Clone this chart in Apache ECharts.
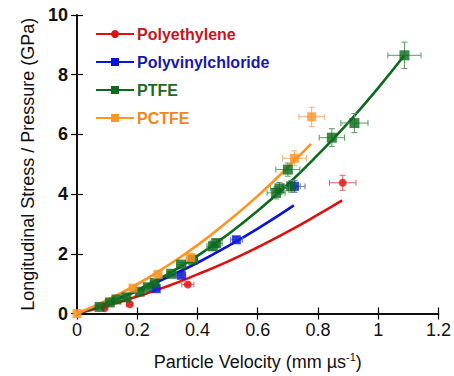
<!DOCTYPE html>
<html><head><meta charset="utf-8">
<script src="https://cdn.jsdelivr.net/npm/echarts@6/dist/echarts.min.js"></script>
<style>html,body{margin:0;padding:0;background:#fff}#c{width:454px;height:376px}</style>
</head><body><div id="c"></div>
<script>
// ---- data ----
const seriesNames = ['Polyethylene', 'Polyvinylchloride', 'PTFE', 'PCTFE'];
const xTickLabels = ['0', '0.2', '0.4', '0.6', '0.8', '1', '1.2'];
const yTickLabels = ['0', '2', '4', '6', '8', '10'];

// fitted curves
const peFitV = [0, 0.1, 0.2, 0.3, 0.4, 0.5, 0.6, 0.7, 0.8, 0.88];
const peFitP = [0, 0.26, 0.57, 0.91, 1.31, 1.74, 2.22, 2.74, 3.31, 3.79];
const pvcFitV = [0, 0.1, 0.2, 0.3, 0.4, 0.5, 0.6, 0.72];
const pvcFitP = [0, 0.35, 0.76, 1.21, 1.70, 2.25, 2.84, 3.62];
const ptfeFitV = [0, 0.1, 0.2, 0.3, 0.4, 0.5, 0.6, 0.7, 0.8, 0.9, 1.0, 1.087];
const ptfeFitP = [0, 0.35, 0.78, 1.31, 1.93, 2.64, 3.44, 4.33, 5.32, 6.39, 7.56, 8.65];
const pctfeFitV = [0, 0.1, 0.2, 0.3, 0.4, 0.5, 0.6, 0.7, 0.777];
const pctfeFitP = [0, 0.45, 0.98, 1.60, 2.29, 3.08, 3.94, 4.90, 5.68];

// measured points with error bars
const peV = [0.092, 0.175, 0.368, 0.882];
const peP = [0.18, 0.31, 0.97, 4.38];
const peXErr = [0.005, 0.01, 0.02, 0.044];
const peYErr = [0.03, 0.05, 0.05, 0.25];

const pvcV = [0.263, 0.346, 0.529, 0.722];
const pvcP = [0.83, 1.28, 2.47, 4.26];
const pvcXErr = [0.01, 0.015, 0.02, 0.035];
const pvcYErr = [0.05, 0.08, 0.1, 0.2];

const ptfeV = [0.075, 0.109, 0.131, 0.164, 0.208, 0.235, 0.258, 0.313, 0.346, 0.385, 0.451, 0.462, 0.661, 0.672, 0.711, 0.700, 0.846, 0.921, 1.087];
const ptfeP = [0.22, 0.37, 0.47, 0.54, 0.73, 0.88, 1.02, 1.33, 1.64, 1.80, 2.25, 2.36, 4.04, 4.19, 4.26, 4.82, 5.89, 6.38, 8.65];
const ptfeXErr = [0.01, 0.01, 0.01, 0.01, 0.01, 0.01, 0.012, 0.015, 0.015, 0.015, 0.02, 0.02, 0.03, 0.03, 0.03, 0.04, 0.042, 0.045, 0.055];
const ptfeYErr = [0.05, 0.05, 0.05, 0.05, 0.05, 0.05, 0.06, 0.08, 0.08, 0.1, 0.12, 0.12, 0.2, 0.2, 0.2, 0.22, 0.3, 0.32, 0.44];

const pctfeV = [0, 0.186, 0.269, 0.377, 0.722, 0.779];
const pctfeP = [0, 0.85, 1.31, 1.88, 5.2, 6.59];
const pctfeXErr = [0, 0.01, 0.01, 0.015, 0.04, 0.042];
const pctfeYErr = [0, 0.05, 0.08, 0.1, 0.25, 0.32];

// ---- styles ----
const colors = ['#e01010', '#0a14d8', '#0b6a1c', '#ff9422'];
const textColors = ['#c8141c', '#1818a8', '#1c6a24', '#f0861e'];
const errColors = ['#e46060', '#6070d8', '#5a9a62', '#f6b06c'];
const symbols = ['circle', 'rect', 'rect', 'rect'];
const symSizes = [8, 9, 10, 9];

const zip = (a, b) => a.map((v, i) => [v, b[i]]);
const zip4 = (a, b, c, d) => a.map((v, i) => [v, b[i], c[i], d[i]]);

const fits = [zip(peFitV, peFitP), zip(pvcFitV, pvcFitP), zip(ptfeFitV, ptfeFitP), zip(pctfeFitV, pctfeFitP)];
const pts = [zip4(peV, peP, peXErr, peYErr), zip4(pvcV, pvcP, pvcXErr, pvcYErr), zip4(ptfeV, ptfeP, ptfeXErr, ptfeYErr), zip4(pctfeV, pctfeP, pctfeXErr, pctfeYErr)];

function errRender(color) {
  return function (params, api) {
    const x = api.value(0), y = api.value(1), ex = api.value(2), ey = api.value(3);
    const c = api.coord([x, y]);
    const l = api.coord([x - ex, y]), r = api.coord([x + ex, y]);
    const t = api.coord([x, y + ey]), b = api.coord([x, y - ey]);
    const cap = 3;
    const st = { stroke: color, lineWidth: 1 };
    return {
      type: 'group', children: [
        { type: 'line', shape: { x1: l[0], y1: c[1], x2: r[0], y2: c[1] }, style: st },
        { type: 'line', shape: { x1: l[0], y1: c[1] - cap, x2: l[0], y2: c[1] + cap }, style: st },
        { type: 'line', shape: { x1: r[0], y1: c[1] - cap, x2: r[0], y2: c[1] + cap }, style: st },
        { type: 'line', shape: { x1: c[0], y1: t[1], x2: c[0], y2: b[1] }, style: st },
        { type: 'line', shape: { x1: c[0] - cap, y1: t[1], x2: c[0] + cap, y2: t[1] }, style: st },
        { type: 'line', shape: { x1: c[0] - cap, y1: b[1], x2: c[0] + cap, y2: b[1] }, style: st }
      ]
    };
  };
}

const series = [];
seriesNames.forEach((n, i) => {
  series.push({
    name: n, type: 'line', data: fits[i], smooth: true, showSymbol: false,
    symbol: symbols[i], symbolSize: symSizes[i],
    itemStyle: { color: colors[i] }, lineStyle: { color: colors[i], width: 2.6 },
    z: 2, silent: true, animation: false
  });
});
seriesNames.forEach((n, i) => {
  series.push({
    name: n + '_err', type: 'custom', data: pts[i], renderItem: errRender(errColors[i]),
    encode: { x: 0, y: 1 }, z: 3, silent: true, animation: false
  });
});
seriesNames.forEach((n, i) => {
  series.push({
    name: n + '_pts', type: 'scatter', data: pts[i].map(p => [p[0], p[1]]),
    symbol: symbols[i], symbolSize: symSizes[i], itemStyle: { color: colors[i] },
    z: 4, silent: true, animation: false
  });
});

const axisLine = { show: true, lineStyle: { color: '#000', width: 1.5 } };
const axisTick = { show: true, inside: true, length: 6, lineStyle: { color: '#000', width: 1.2 } };

const chart = echarts.init(document.getElementById('c'), null, { renderer: 'svg' });
chart.setOption({
  animation: false,
  grid: { left: 77, right: 15, top: 15, bottom: 60 },
  legend: {
    orient: 'vertical', left: 90, top: 21, itemWidth: 38, itemHeight: 10, itemGap: 12,
    selectedMode: false,
    data: seriesNames.map((n, i) => ({ name: n, textStyle: { color: textColors[i] } })),
    textStyle: { fontFamily: 'Liberation Sans, Arial', fontSize: 16, fontWeight: 'bold', padding: [0, 0, 0, -2] }
  },
  xAxis: [{
    type: 'value', min: 0, max: 1.2, interval: 0.2,
    axisLine, axisTick, splitLine: { show: false },
    axisLabel: { margin: 7, color: '#111', fontFamily: 'Liberation Sans, Arial', fontSize: 18,
      formatter: (v) => xTickLabels[Math.round(v / 0.2)] },
    name: '{a|Particle Velocity (mm µs}{b|-1}{a|)}', nameLocation: 'middle', nameGap: 38,
    nameTextStyle: { rich: {
      a: { fontFamily: 'Liberation Sans, Arial', fontSize: 18, color: '#111' },
      b: { fontFamily: 'Liberation Sans, Arial', fontSize: 11, color: '#111', verticalAlign: 'top', padding: [0, 0, 10, 0] }
    } }
  }, {
    type: 'value', position: 'top', min: 0, max: 1.2, interval: 0.2,
    axisLine, axisTick, axisLabel: { show: false }, splitLine: { show: false }
  }],
  yAxis: [{
    type: 'value', min: 0, max: 10, interval: 2,
    axisLine, axisTick, splitLine: { show: false },
    axisLabel: { margin: 9, color: '#111', fontFamily: 'Liberation Sans, Arial', fontSize: 18, fontWeight: 'bold',
      formatter: (v) => yTickLabels[Math.round(v / 2)] },
    name: 'Longitudinal Stress / Pressure (GPa)', nameLocation: 'middle', nameGap: 36,
    nameTextStyle: { fontFamily: 'Liberation Sans, Arial', fontSize: 18, color: '#111' }
  }, {
    type: 'value', position: 'right', min: 0, max: 10, interval: 2,
    axisLine, axisTick, axisLabel: { show: false }, splitLine: { show: false }
  }],
  series
});
</script></body></html>
